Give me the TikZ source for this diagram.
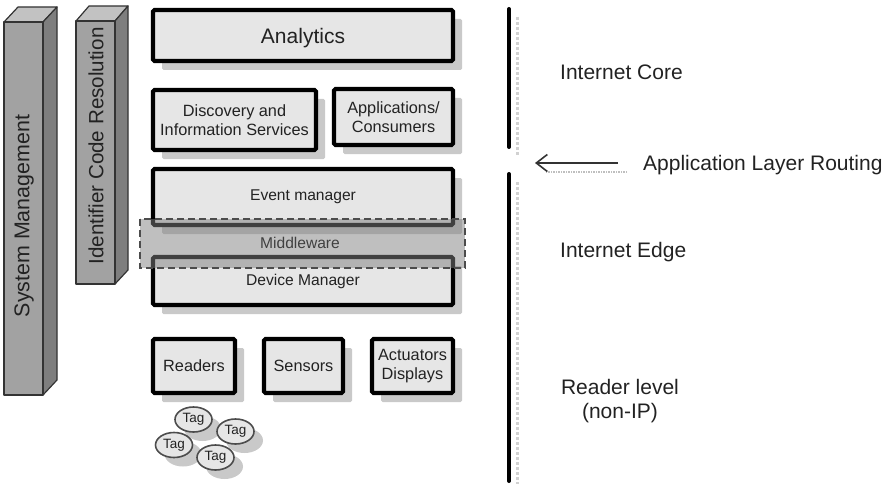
\documentclass[tikz,border=0pt]{standalone}
\usepackage{fontspec}
\setmainfont{Liberation Sans}
\usetikzlibrary{shapes.geometric,shadows,arrows.meta}
\definecolor{boxfill}{HTML}{E6E6E6}
\definecolor{shadowc}{HTML}{C9C9C9}
\definecolor{barfront}{HTML}{A2A2A2}
\definecolor{barside}{HTML}{7E7E7E}
\definecolor{bartop}{HTML}{C2C2C2}
\definecolor{txt}{HTML}{222222}
\tikzset{
  sh/.style={drop shadow={shadow xshift=9pt, shadow yshift=-9pt, fill=shadowc, opacity=1}},
  box/.style={draw=black, line width=4.2pt, fill=boxfill, rounded corners=1.5pt,
    inner sep=0pt, align=center, text=txt, sh},
  bigf/.style={font=\fontsize{21}{24}\selectfont},
  midf/.style={font=\fontsize{16.3}{19}\selectfont},
  smf/.style={font=\fontsize{15.6}{19}\selectfont},
  tag/.style={ellipse, draw=black!70, line width=1.6pt, fill=boxfill, inner sep=0pt,
    minimum width=37pt, minimum height=25pt, text=txt, font=\fontsize{13.5}{15}\selectfont,
    drop shadow={shadow xshift=9pt, shadow yshift=-9pt, fill=shadowc, opacity=1}},
  lbl/.style={text=txt, bigf, inner sep=0pt},
  barline/.style={draw=black!80, line width=1.2pt, line join=round},
  vline/.style={line width=4pt, line cap=round, black},
  vshadow/.style={line width=3pt, black!18, dotted},
}
\begin{document}
\begin{tikzpicture}[x=1pt,y=-1pt]
\useasboundingbox (0,0) rectangle (888,484);
% 3D bars
\filldraw[barline, fill=bartop] (4,22) -- (18,7) -- (57,7) -- (43,22) -- cycle;
\filldraw[barline, fill=barside] (43,22) -- (57,7) -- (57,380) -- (43,395) -- cycle;
\filldraw[barline, fill=barfront] (4,22) rectangle (43,395);
\node[lbl, rotate=90, font=\fontsize{21.4}{24}\selectfont] (sysm) at (24,216) {System Management};
\filldraw[barline, fill=bartop] (76,21) -- (89,6) -- (128,6) -- (115,21) -- cycle;
\filldraw[barline, fill=barside] (115,21) -- (128,6) -- (128,270) -- (115,284) -- cycle;
\filldraw[barline, fill=barfront] (76,21) rectangle (115,284);
\node[lbl, rotate=90, font=\fontsize{20.6}{24}\selectfont] (icr) at (96,146) {Identifier Code Resolution};
% boxes
\node[box, bigf, text depth=0pt, minimum width=300pt, minimum height=51pt] (ana) at (303,35.5) {Analytics};
\node[box, midf, minimum width=163pt, minimum height=60pt] (dis) at (234.5,120) {Discovery and\\Information Services};
\node[box, midf, minimum width=119pt, minimum height=56pt] (app) at (393.5,117) {Applications/\\Consumers};
\node[box, smf, minimum width=300pt, minimum height=56pt] (evt) at (303,197) {Event manager};
\node[box, smf, minimum width=300pt, minimum height=48pt] (dev) at (303,281) {Device Manager};
% middleware band
\fill[black!50, fill opacity=0.5] (140,219) rectangle (465,268);
\draw[black!70, line width=1.8pt, dash pattern=on 7pt off 4pt] (140,219) rectangle (465,268);
\node[smf, text=black!75, inner sep=0pt] (mid) at (300,243) {Middleware};
% devices
\node[box, midf, minimum width=82pt, minimum height=54pt] (rea) at (194,366) {Readers};
\node[box, midf, minimum width=79pt, minimum height=54pt] (sen) at (303.5,366) {Sensors};
\node[box, midf, minimum width=81pt, minimum height=54pt] (act) at (412.5,366) {Actuators\\Displays};
% tags
\node[tag] (t1) at (193.5,419.5) {Tag};
\node[tag] (t2) at (235.5,431.5) {Tag};
\node[tag] (t3) at (174,445) {Tag};
\node[tag] (t4) at (215.5,457.5) {Tag};
% vertical separator
\draw[vshadow] (517,17) -- (517,155);
\draw[vshadow] (517,182) -- (517,484);
\draw[vline] (509,9) -- (509,147);
\draw[vline] (509,174) -- (509,481);
% arrow
\coordinate (as) at (618,163);
\coordinate (ae) at (535,163);
\coordinate (ss) at (627,172);
\coordinate (se) at (545,172);
\draw[black!25, line width=1.5pt, densely dotted] (ss) -- (se);
\draw[black!80, line width=2pt, -{Straight Barb[length=11pt, width=17pt, line width=1.6pt]}] (as) -- (ae);
% labels
\node[lbl, anchor=base west] (core) at (560,80) {Internet Core};
\node[lbl, anchor=base west] (route) at (643,170) {Application Layer Routing};
\node[lbl, anchor=base west] (edge) at (560,257) {Internet Edge};
\node[lbl, align=center, anchor=north] (rl) at (620,379) {Reader level\\(non-IP)};
\end{tikzpicture}
\end{document}
